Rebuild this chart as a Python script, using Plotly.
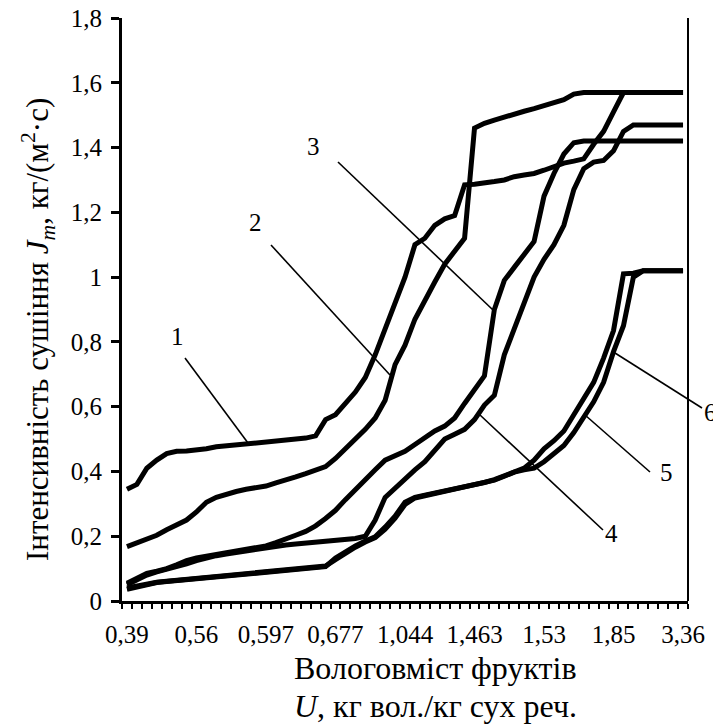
import plotly.graph_objects as go

# ---- data ----
x_tick_labels = ["0,39", "0,56", "0,597", "0,677", "1,044", "1,463", "1,53", "1,85", "3,36"]
label_step = 7

curve1 = [0.345, 0.36, 0.41, 0.435, 0.455, 0.462, 0.463, 0.465, 0.47, 0.476,
          0.479, 0.482, 0.486, 0.488, 0.493, 0.497, 0.499, 0.501, 0.503, 0.51,
          0.56, 0.575, 0.61, 0.645, 0.69, 0.76, 0.84, 0.92, 1.0, 1.10,
          1.12, 1.16, 1.18, 1.19, 1.285, 1.287, 1.29, 1.295, 1.30, 1.31,
          1.315, 1.32, 1.33, 1.342, 1.352, 1.358, 1.365, 1.41, 1.45, 1.51,
          1.57, 1.57, 1.57, 1.57, 1.57, 1.57, 1.57]
curve2 = [0.168, 0.18, 0.19, 0.203, 0.22, 0.235, 0.25, 0.275, 0.305, 0.32,
          0.33, 0.338, 0.345, 0.35, 0.355, 0.365, 0.373, 0.383, 0.393, 0.405,
          0.415, 0.44, 0.47, 0.495, 0.53, 0.565, 0.62, 0.73, 0.79, 0.87,
          0.93, 0.985, 1.04, 1.08, 1.12, 1.46, 1.475, 1.485, 1.495, 1.505,
          1.512, 1.52, 1.53, 1.54, 1.548, 1.565, 1.57, 1.57, 1.57, 1.57,
          1.57, 1.57, 1.57, 1.57, 1.57, 1.57, 1.57]
curve3 = [0.055, 0.07, 0.085, 0.092, 0.10, 0.112, 0.125, 0.133, 0.138, 0.143,
          0.147, 0.152, 0.157, 0.163, 0.17, 0.18, 0.19, 0.203, 0.215, 0.232,
          0.255, 0.28, 0.313, 0.345, 0.375, 0.405, 0.435, 0.45, 0.462, 0.483,
          0.505, 0.525, 0.54, 0.565, 0.61, 0.65, 0.695, 0.90, 0.99, 1.03,
          1.07, 1.11, 1.25, 1.32, 1.38, 1.415, 1.42, 1.42, 1.42, 1.42,
          1.42, 1.42, 1.42, 1.42, 1.42, 1.42, 1.42]
curve4 = [0.05, 0.065, 0.08, 0.09, 0.098, 0.105, 0.115, 0.125, 0.133, 0.14,
          0.145, 0.15, 0.155, 0.16, 0.165, 0.169, 0.173, 0.176, 0.179, 0.182,
          0.184, 0.186, 0.188, 0.193, 0.20, 0.25, 0.32, 0.35, 0.38, 0.405,
          0.43, 0.465, 0.50, 0.515, 0.53, 0.56, 0.605, 0.635, 0.76, 0.84,
          0.92, 1.0, 1.055, 1.10, 1.16, 1.27, 1.335, 1.355, 1.36, 1.39,
          1.45, 1.47, 1.47, 1.47, 1.47, 1.47, 1.47]
curve5 = [0.036, 0.043, 0.052, 0.057, 0.06, 0.063, 0.066, 0.068, 0.071, 0.074,
          0.077, 0.08, 0.084, 0.087, 0.09, 0.093, 0.096, 0.098, 0.10, 0.103,
          0.106, 0.133, 0.153, 0.17, 0.185, 0.198, 0.228, 0.262, 0.305, 0.32,
          0.327, 0.333, 0.34, 0.347, 0.353, 0.36, 0.366, 0.375, 0.388, 0.40,
          0.41, 0.435, 0.47, 0.495, 0.525, 0.575, 0.625, 0.675, 0.75, 0.835,
          1.01, 1.012, 1.02, 1.02, 1.02, 1.02, 1.02]
curve6 = [0.04, 0.046, 0.054, 0.058, 0.061, 0.064, 0.067, 0.069, 0.072, 0.075,
          0.078, 0.081, 0.085, 0.088, 0.091, 0.094, 0.097, 0.099, 0.101, 0.104,
          0.108, 0.128, 0.148, 0.166, 0.182, 0.196, 0.222, 0.256, 0.298, 0.318,
          0.325, 0.332, 0.339, 0.346, 0.352, 0.359, 0.365, 0.373, 0.385, 0.398,
          0.405, 0.41, 0.43, 0.455, 0.48, 0.52, 0.57, 0.615, 0.675, 0.77,
          0.85, 1.0, 1.02, 1.02, 1.02, 1.02, 1.02]
series = [curve1, curve2, curve3, curve4, curve5, curve6]
curve_labels = ["1", "2", "3", "4", "5", "6"]
y_ticks = [0, 0.2, 0.4, 0.6, 0.8, 1.0, 1.2, 1.4, 1.6, 1.8]
y_tick_labels = ["0", "0,2", "0,4", "0,6", "0,8", "1", "1,2", "1,4", "1,6", "1,8"]

# ---- layout geometry (pixels in the reference picture) ----
OFF = 8                      # default page margin of the browser
W, H = 721 - OFF, 727 - OFF  # figure size so that it fits the window
L, R, T, B = 122, 688, 18, 601
FONT = "Liberation Serif"


def px(x):
    return (x - L) / (R - L)


def py(y):
    return (B - y) / (B - T)


n = len(curve1)
xs = list(range(n))

fig = go.Figure()
for s in series:
    fig.add_trace(go.Scatter(x=xs, y=s, mode="lines",
                             line=dict(color="black", width=5),
                             hoverinfo="skip"))

# leader lines and curve numbers (positions in reference pixels)
leaders = [((185, 358), (248, 443)), ((271, 245), (390, 375)), ((338, 162), (493, 310)),
           ((603, 530), (480, 415)), ((650, 472), (585, 415)), ((702, 408), (615, 353))]
label_pos = [(177, 336), (255, 222), (313, 147), (611, 533), (666, 473), (710, 413)]

shapes = []
for (a, b) in leaders:
    shapes.append(dict(type="line", xref="paper", yref="paper",
                       x0=px(a[0]), y0=py(a[1]), x1=px(b[0]), y1=py(b[1]),
                       line=dict(color="black", width=1.6)))
# right border
shapes.append(dict(type="line", xref="paper", yref="paper", x0=1, x1=1, y0=0, y1=1,
                   line=dict(color="black", width=2)))

annotations = []
for lab, (x, y) in zip(curve_labels, label_pos):
    annotations.append(dict(text=lab, xref="paper", yref="paper", x=px(x), y=py(y),
                            showarrow=False, xanchor="center", yanchor="middle",
                            font=dict(family=FONT, size=25, color="black")))
annotations.append(dict(text="Вологовміст фруктів", xref="paper", yref="paper",
                        x=px(436), y=py(668), showarrow=False, xanchor="center", yanchor="middle",
                        font=dict(family=FONT, size=32, color="black")))
annotations.append(dict(text="<i>U</i>, кг вол./кг сух реч.", xref="paper", yref="paper",
                        x=px(436), y=py(706), showarrow=False, xanchor="center", yanchor="middle",
                        font=dict(family=FONT, size=32, color="black")))
annotations.append(dict(text="Інтенсивність сушіння <i>J<sub>m</sub></i>, кг/(м<sup>2</sup>·с)",
                        xref="paper", yref="paper", x=px(38), y=py(330), textangle=-90,
                        showarrow=False, xanchor="center", yanchor="middle",
                        font=dict(family=FONT, size=31, color="black")))

fig.update_layout(
    width=W, height=H,
    margin=dict(l=L - OFF, r=721 - R, t=T - OFF, b=727 - B, autoexpand=False),
    plot_bgcolor="white", paper_bgcolor="white",
    showlegend=False,
    font=dict(family=FONT, color="black"),
    shapes=shapes, annotations=annotations,
    xaxis=dict(range=[-0.5, n - 0.5], tickmode="array",
               tickvals=xs[::label_step], ticktext=x_tick_labels,
               ticks="", showline=True, linewidth=3, linecolor="black",
               showgrid=False, zeroline=False, ticklabelstandoff=9, automargin=False,
               ticklabeloverflow="allow",
               tickfont=dict(family=FONT, size=25, color="black"),
               minor=dict(tickmode="array", tickvals=[i - 0.5 for i in range(n + 1)],
                          ticks="outside", ticklen=5, tickwidth=2, tickcolor="black")),
    yaxis=dict(range=[0, 1.8], tickmode="array", tickvals=y_ticks, ticktext=y_tick_labels,
               ticks="outside", ticklen=8, tickwidth=2.5, tickcolor="black",
               showline=True, linewidth=3, linecolor="black", automargin=False,
               ticklabeloverflow="allow",
               showgrid=False, zeroline=False, ticklabelstandoff=4,
               tickfont=dict(family=FONT, size=25, color="black")),
)

fig.write_html("out.html")
